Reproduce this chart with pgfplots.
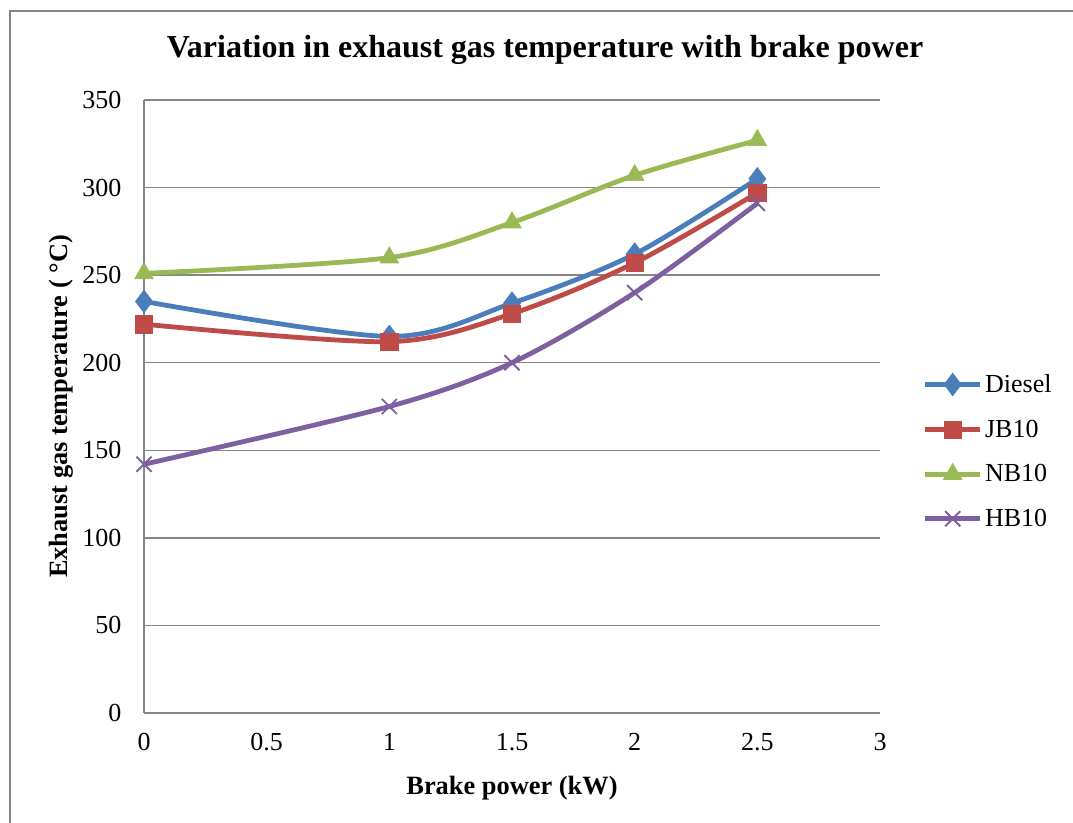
\documentclass[border=0pt]{standalone}
\usepackage{fontspec}
\setmainfont{Liberation Serif}
\usepackage{pgfplots}
\pgfplotsset{compat=1.18}
\definecolor{cBlue}{HTML}{4A7EBB}
\definecolor{cRed}{HTML}{BE4B48}
\definecolor{cGreen}{HTML}{98B954}
\definecolor{cPurple}{HTML}{7D60A0}
\definecolor{cGrid}{HTML}{868686}
\begin{document}
\begin{tikzpicture}
\useasboundingbox (0pt,0pt) rectangle (804.75pt,617.25pt);
\draw[cGrid,line width=1.2pt] (7.5pt,0pt) -- (7.5pt,609pt) -- (804.75pt,609pt);
\node[font=\bfseries\fontsize{24}{28}\selectfont] at (408.75pt,579.75pt) {Variation in exhaust gas temperature with brake power};
\begin{axis}[
  at={(108pt,82.5pt)}, anchor=south west,
  scale only axis, width=552pt, height=459.75pt,
  xmin=0, xmax=3, ymin=0, ymax=350,
  xtick={0,0.5,...,3}, ytick={0,50,...,350},
  xticklabels={0,0.5,1,1.5,2,2.5,3},
  axis lines*=left,
  axis line style={cGrid,line width=1pt,-},
  major tick length=0pt,
  ymajorgrids, grid style={cGrid,line width=1.1pt},
  tick label style={font=\fontsize{19.5}{22}\selectfont},
  /pgf/number format/assume math mode=true,
  xticklabel style={yshift=-12pt},
  yticklabel style={xshift=-13.5pt},
  xlabel={\bfseries Brake power (kW)},
  ylabel={\bfseries Exhaust gas temperature ( °C)},
  label style={font=\bfseries\fontsize{19.8}{23}\selectfont},
  xlabel style={yshift=-12pt},
  ylabel style={yshift=0pt},
  legend style={at={(1.058,0.557)}, anchor=north west, draw=none, fill=none,
    font=\fontsize{19.5}{22}\selectfont, row sep=15pt, inner sep=0pt,
    /tikz/every even column/.append style={column sep=3pt}},
  legend cell align=left,
  legend image code/.code={\draw[mark repeat=2,mark phase=2] plot coordinates {(0pt,0pt) (20.5pt,0pt) (41pt,0pt)};},
  every axis plot/.append style={line width=3.6pt, smooth, tension=0.5},
]
\addplot[cBlue, mark=diamond*, mark size=8.5pt, mark options={solid, line width=0.5pt, fill=cBlue}] coordinates {(0,235) (1,215) (1.5,234) (2,262) (2.5,305)};
\addlegendentry{Diesel}
\addplot[cRed, mark=square*, mark size=6.5pt, mark options={solid, line width=0.5pt, fill=cRed}] coordinates {(0,222) (1,212) (1.5,228) (2,257) (2.5,297)};
\addlegendentry{JB10}
\addplot[cGreen, mark=triangle*, mark size=8pt, mark options={solid, line width=0.5pt, fill=cGreen}] coordinates {(0,251) (1,260) (1.5,280) (2,307) (2.5,327)};
\addlegendentry{NB10}
\addplot[cPurple, mark=x, mark size=8pt, mark options={solid, line width=1.4pt}] coordinates {(0,142) (1,175) (1.5,200) (2,240) (2.5,291)};
\addlegendentry{HB10}
\end{axis}
\end{tikzpicture}
\end{document}
